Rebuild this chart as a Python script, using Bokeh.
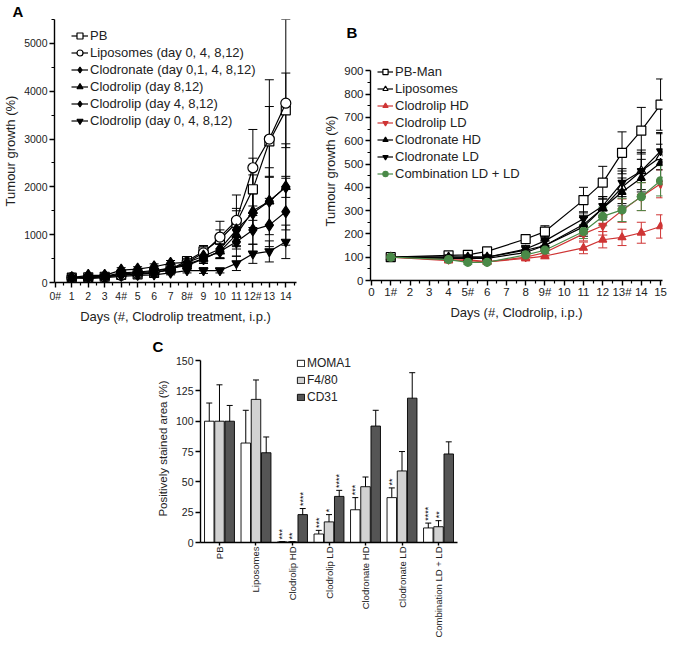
import numpy as np
from bokeh.plotting import figure
from bokeh.models import (Range1d, FixedTicker, Legend, LegendItem, Whisker, TeeHead,
                          ColumnDataSource, Spacer)
from bokeh.layouts import row, column
from bokeh.embed import file_html
from bokeh.resources import INLINE
from bokeh.core.properties import value

FONT = "Liberation Sans"

# ---------------- Panel A data ----------------
a_days = [1, 2, 3, 4, 5, 6, 7, 8, 9, 10, 11, 12, 13, 14]
a_tick_labels = {0: "0#", 4: "4#", 8: "8#", 12: "12#"}
a_names = ["PB", "Liposomes (day 0, 4, 8,12)", "Clodronate (day 0,1, 4, 8,12)",
           "Clodrolip (day 8,12)", "Clodrolip (day 4, 8,12)", "Clodrolip (day 0, 4, 8,12)"]
a_pb = [100, 110, 120, 160, 170, 200, 280, 450, 650, 900, 1250, 1950, 2950, 3600]
a_pb_err = [30, 30, 30, 40, 40, 50, 60, 80, 120, 200, 300, 650, 730, 780]
a_lipo = [100, 100, 120, 150, 180, 210, 260, 420, 620, 950, 1300, 2400, 3000, 3750]
a_lipo_err = [30, 30, 30, 40, 40, 50, 60, 80, 150, 330, 530, 800, 1240, 1750]
a_clodronate = [100, 150, 150, 260, 280, 330, 400, 420, 550, 700, 1100, 1450, 1700, 2000]
a_clodronate_err = [30, 40, 40, 50, 50, 60, 60, 80, 120, 180, 400, 800, 700, 900]
a_clod812 = [100, 100, 120, 180, 200, 230, 300, 380, 500, 650, 1000, 1500, 1700, 2000]
a_clod812_err = [30, 30, 30, 40, 40, 50, 60, 70, 100, 150, 250, 350, 500, 220]
a_clod4812 = [100, 120, 130, 200, 220, 250, 300, 350, 500, 650, 850, 1100, 1200, 1480]
a_clod4812_err = [30, 30, 30, 40, 40, 50, 50, 70, 100, 150, 300, 300, 450, 700]
a_clod04812 = [100, 80, 100, 130, 150, 160, 200, 250, 250, 250, 400, 600, 650, 850]
a_clod04812_err = [20, 20, 20, 30, 30, 30, 40, 50, 60, 50, 150, 200, 220, 350]

# ---------------- Panel B data ----------------
b_days = [1, 4, 5, 6, 8, 9, 11, 12, 13, 14, 15]
b_tick_labels = {1: "1#", 5: "5#", 9: "9#", 13: "13#"}
b_names = ["PB-Man", "Liposomes", "Clodrolip HD", "Clodrolip LD",
           "Clodronate HD", "Clodronate LD", "Combination LD + LD"]
b_pbman = [100, 108, 110, 125, 178, 210, 345, 420, 548, 643, 755]
b_pbman_err = [5, 10, 10, 12, 15, 25, 55, 70, 90, 100, 110]
b_lipo = [100, 100, 100, 100, 130, 150, 230, 310, 400, 470, 530]
b_lipo_err = [5, 10, 10, 10, 15, 20, 40, 50, 70, 80, 100]
b_clodrolip_hd = [100, 85, 90, 80, 95, 105, 140, 175, 185, 205, 232]
b_clodrolip_hd_err = [5, 8, 8, 8, 10, 12, 25, 35, 35, 45, 50]
b_clodrolip_ld = [100, 90, 85, 80, 100, 120, 200, 235, 300, 360, 415]
b_clodrolip_ld_err = [5, 8, 8, 8, 10, 15, 30, 40, 50, 60, 60]
b_clodronate_hd = [100, 95, 95, 95, 120, 150, 240, 310, 380, 440, 505]
b_clodronate_hd_err = [5, 8, 8, 8, 12, 20, 40, 40, 60, 80, 80]
b_clodronate_ld = [100, 100, 100, 100, 135, 170, 265, 320, 420, 470, 555]
b_clodronate_ld_err = [5, 8, 8, 8, 15, 20, 30, 40, 60, 90, 80]
b_combination = [100, 90, 78, 78, 110, 130, 210, 275, 303, 360, 428]
b_combination_err = [5, 8, 8, 8, 12, 15, 30, 40, 50, 60, 65]

# ---------------- Panel C data ----------------
c_groups = ["PB", "Liposomes", "Clodrolip HD", "Clodrolip LD",
            "Clodronate HD", "Clodronate LD", "Combination LD + LD"]
c_series = ["MOMA1", "F4/80", "CD31"]
c_moma1 = [100, 82, 0.5, 7, 27, 37, 12]
c_moma1_err = [15, 27, 0, 3, 10, 8, 4]
c_f480 = [100, 118, 0.5, 17, 46, 59, 13]
c_f480_err = [30, 16, 0, 6, 8, 16, 5]
c_cd31 = [100, 74, 23, 38, 96, 119, 73]
c_cd31_err = [13, 13, 5, 5, 13, 21, 10]
# (group index, series index, stars)
c_stars = [(2, 0, "***"), (2, 1, "**"), (2, 2, "****"),
           (3, 0, "***"), (3, 1, "*"), (3, 2, "****"),
           (4, 0, "***"), (5, 0, "**"), (6, 0, "****"), (6, 1, "**")]


def style_axes(p, tick_size, label_size):
    p.frame_align = False
    for ax in p.axis:
        ax.axis_line_width = 1.4
        ax.axis_line_color = "black"
        ax.major_tick_line_width = 1.4
        ax.minor_tick_line_width = 1.2
        ax.major_tick_in = 0
        ax.major_tick_out = 5
        ax.minor_tick_in = 0
        ax.minor_tick_out = 3
        ax.major_label_text_font = FONT
        ax.major_label_text_font_size = tick_size
        ax.major_label_text_color = "#222222"
        ax.axis_label_text_font = FONT
        ax.axis_label_text_font_size = label_size
        ax.axis_label_text_font_style = "normal"
        ax.axis_label_text_color = "#222222"
        ax.major_label_standoff = 2
        ax.axis_label_standoff = 4
    p.grid.visible = False
    p.outline_line_color = None


def panel_title(p, text, offset, standoff):
    p.title.text = text
    p.title.align = "left"
    p.title.offset = offset
    p.title.standoff = standoff
    p.title.text_font = FONT
    p.title.text_font_size = "15px"
    p.title.text_line_height = 0.8
    p.title.text_font_style = "bold"
    p.title.text_color = "black"


# ================= Panel A =================
pA = figure(width=320, height=334, output_backend="svg", toolbar_location=None,
            x_range=Range1d(-0.05, 14.65), y_range=Range1d(0, 5500),
            min_border_left=44, min_border_right=24, min_border_top=12, min_border_bottom=52)
style_axes(pA, "10.5px", "13px")
pA.yaxis.axis_label_standoff = 3
pA.xaxis.ticker = FixedTicker(ticks=list(range(0, 15)),
                              minor_ticks=[i + 0.5 for i in range(0, 15)])
pA.xaxis.major_label_overrides = a_tick_labels
pA.yaxis.ticker = FixedTicker(ticks=[0, 1000, 2000, 3000, 4000, 5000],
                              minor_ticks=[500, 1500, 2500, 3500, 4500, 5500])
pA.xaxis.axis_label = "Days (#, Clodrolip treatment, i.p.)"
pA.yaxis.axis_label = "Tumour growth (%)"
panel_title(pA, "A", -42, 0)

a_data = [(a_pb, a_pb_err, "square", "white", 9),
          (a_lipo, a_lipo_err, "circle", "white", 10),
          (a_clodronate, a_clodronate_err, "diamond", "black", 12),
          (a_clod812, a_clod812_err, "triangle", "black", 9),
          (a_clod4812, a_clod4812_err, "diamond", "black", 12),
          (a_clod04812, a_clod04812_err, "inverted_triangle", "black", 9)]
a_items = []
for name, (vals, errs, mk, fill, size) in zip(a_names, a_data):
    v = np.array(vals, dtype=float)
    e = np.array(errs, dtype=float)
    src = ColumnDataSource(dict(x=a_days, y=v, upper=v + e, lower=v - e))
    pA.add_layout(Whisker(source=src, base="x", upper="upper", lower="lower",
                          line_color="black", line_width=1,
                          upper_head=TeeHead(size=9, line_color="black", line_width=1),
                          lower_head=TeeHead(size=9, line_color="black", line_width=1)))
    lr = pA.line("x", "y", source=src, line_color="black", line_width=1.2)
    sr = pA.scatter("x", "y", source=src, marker=mk, size=size, fill_color=fill,
                    line_color="black", line_width=1.2)
    a_items.append(LegendItem(label=name, renderers=[lr, sr]))
legA = Legend(items=a_items, location=(17, 154), padding=0, margin=0, spacing=2,
              glyph_width=17, glyph_height=15, label_height=14, label_standoff=2,
              label_text_font=FONT, label_text_font_size="13px", label_text_color="#222222",
              border_line_color=None, background_fill_alpha=0)
pA.add_layout(legA)

# ================= Panel B =================
pB = figure(width=349, height=335, output_backend="svg", toolbar_location=None,
            x_range=Range1d(-0.05, 15.1), y_range=Range1d(0, 940),
            min_border_left=43, min_border_right=7, min_border_top=55, min_border_bottom=55)
style_axes(pB, "11.5px", "13px")
pB.yaxis.axis_label_standoff = 3
pB.xaxis.major_label_standoff = 0
pB.yaxis.bounds = (0, 900)
pB.xaxis.ticker = FixedTicker(ticks=list(range(0, 16)),
                              minor_ticks=[i + 0.5 for i in range(0, 15)])
pB.xaxis.major_label_overrides = b_tick_labels
pB.yaxis.ticker = FixedTicker(ticks=list(range(0, 1000, 100)),
                              minor_ticks=list(range(50, 900, 100)))
pB.xaxis.axis_label = "Days (#, Clodrolip, i.p.)"
pB.yaxis.axis_label = "Tumour growth (%)"
panel_title(pB, "B", -24, 42)

RED = "#cf3535"
GREEN = "#4a8a48"
b_data = [(b_pbman, b_pbman_err, "square", "white", "black", 9),
          (b_lipo, b_lipo_err, "triangle", "white", "black", 9),
          (b_clodrolip_hd, b_clodrolip_hd_err, "triangle", RED, RED, 8),
          (b_clodrolip_ld, b_clodrolip_ld_err, "inverted_triangle", RED, RED, 8),
          (b_clodronate_hd, b_clodronate_hd_err, "triangle", "black", "black", 8),
          (b_clodronate_ld, b_clodronate_ld_err, "inverted_triangle", "black", "black", 8),
          (b_combination, b_combination_err, "circle", GREEN, GREEN, 8)]
b_items = []
for name, (vals, errs, mk, fill, col, size) in zip(b_names, b_data):
    v = np.array(vals, dtype=float)
    e = np.array(errs, dtype=float)
    src = ColumnDataSource(dict(x=b_days, y=v, upper=v + e, lower=v - e))
    pB.add_layout(Whisker(source=src, base="x", upper="upper", lower="lower",
                          line_color=col, line_width=1,
                          upper_head=TeeHead(size=9, line_color=col, line_width=1),
                          lower_head=TeeHead(size=9, line_color=col, line_width=1)))
    lr = pB.line("x", "y", source=src, line_color=col, line_width=1.2)
    sr = pB.scatter("x", "y", source=src, marker=mk, size=size, fill_color=fill,
                    line_color=col, line_width=1.2)
    b_items.append(LegendItem(label=name, renderers=[lr, sr]))
legB = Legend(items=b_items, location=(7, 99), padding=0, margin=0, spacing=2,
              glyph_width=16, glyph_height=13, label_height=13, label_standoff=2,
              label_text_font=FONT, label_text_font_size="13px", label_text_color="#222222",
              border_line_color=None, background_fill_alpha=0)
pB.add_layout(legB)

# ================= Panel C =================
pC = figure(width=330, height=308, output_backend="svg", toolbar_location=None,
            x_range=Range1d(-0.52, 6.52), y_range=Range1d(0, 155),
            min_border_left=58, min_border_right=15, min_border_top=14, min_border_bottom=101)
style_axes(pC, "10.5px", "11.5px")
pC.yaxis.bounds = (0, 150)
pC.xaxis.ticker = FixedTicker(ticks=list(range(len(c_groups))), minor_ticks=[])
pC.xaxis.major_label_overrides = {i: g for i, g in enumerate(c_groups)}
pC.xaxis.major_label_orientation = np.pi / 2
pC.xaxis.major_label_text_font_size = "9.5px"
pC.xaxis.major_label_standoff = 1
pC.xaxis.major_tick_out = 3
pC.yaxis.ticker = FixedTicker(ticks=[0, 25, 50, 75, 100, 125, 150], minor_ticks=[])
pC.yaxis.axis_label = "Positively stained area (%)"
panel_title(pC, "C", -48, 0)

c_vals = [c_moma1, c_f480, c_cd31]
c_errs = [c_moma1_err, c_f480_err, c_cd31_err]
c_fills = ["white", "#d2d2d2", "#555555"]
c_offsets = [-0.28, 0.0, 0.28]
c_items = []
for k in range(3):
    v = np.array(c_vals[k], dtype=float)
    e = np.array(c_errs[k], dtype=float)
    xs = np.arange(len(c_groups)) + c_offsets[k]
    src = ColumnDataSource(dict(x=xs, top=v, upper=v + e, lower=v - e))
    r = pC.vbar(x="x", top="top", width=0.26, bottom=0, source=src,
                fill_color=c_fills[k], line_color="black", line_width=0.9)
    pC.add_layout(Whisker(source=src, base="x", upper="upper", lower="lower",
                          line_color="black", line_width=1,
                          upper_head=TeeHead(size=6, line_color="black", line_width=1),
                          lower_head=TeeHead(size=6, line_color="black", line_width=1)))
    c_items.append(LegendItem(label=c_series[k], renderers=[r]))

sx, sy, st = [], [], []
for gi, si, txt in c_stars:
    sx.append(gi + c_offsets[si])
    sy.append(c_vals[si][gi] + c_errs[si][gi] + 2)
    st.append(txt)
pC.text(x=sx, y=sy, text=st, angle=np.pi / 2, text_align="left", text_baseline="middle",
        text_font=value(FONT), text_font_size="9px", text_color="black")

legC = Legend(items=c_items, location=(96, 138), padding=0, margin=0, spacing=3,
              glyph_width=9, glyph_height=8, label_height=12, label_standoff=2,
              label_text_font=FONT, label_text_font_size="12px", label_text_color="#222222",
              border_line_color=None, background_fill_alpha=0)
pC.add_layout(legC)

layout = column(row(pA, pB), row(Spacer(width=142, height=308), pC))
open("out.html", "w").write(file_html(layout, INLINE))
